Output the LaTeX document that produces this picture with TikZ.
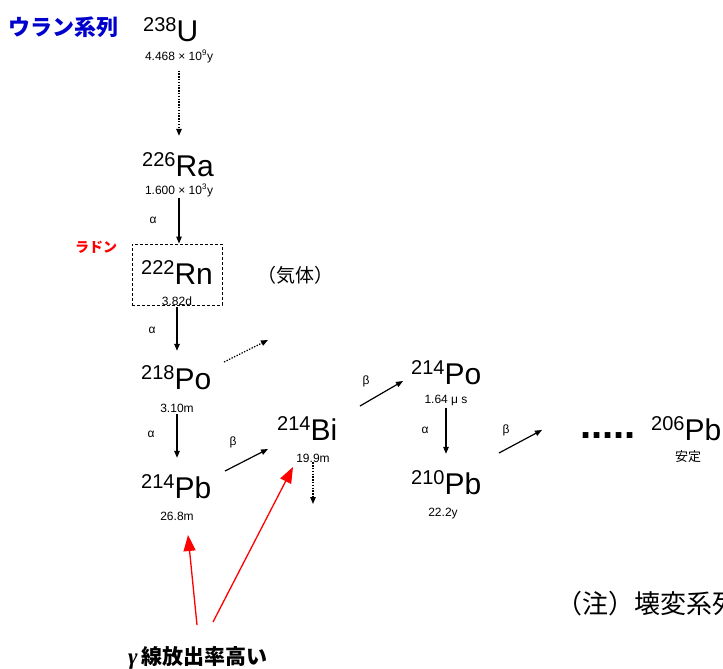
\documentclass[tikz,border=0pt]{standalone}
\usepackage{fontspec}
\setmainfont{Liberation Sans}
\newfontfamily\cjk{Noto Sans CJK JP}
\newfontfamily\serifg{Liberation Serif}
\usetikzlibrary{arrows.meta}
\definecolor{titleblue}{RGB}{0,0,204}
\newcommand{\nuc}[2]{{\fontsize{20}{20}\selectfont\raisebox{10pt}{#1}}{\fontsize{30}{30}\selectfont #2}}
\newcommand{\hsz}{\fontsize{12}{12}\selectfont}
\begin{document}
\begin{tikzpicture}[x=1pt,y=-1pt,
  nucl/.style={anchor=base west,inner sep=0pt},
  hl/.style={anchor=base,inner sep=0pt,font=\hsz},
  arr/.style={line width=1.2pt,-{Triangle[length=7pt,width=5.5pt]}},
  dotarr/.style={arr,dash pattern=on 1.4pt off 1.4pt},
  redarr/.style={red,line width=1.3pt,-{Triangle[length=16pt,width=12pt]}},
  lab/.style={inner sep=0pt,font=\hsz}]
\useasboundingbox (0,0) rectangle (723,669);
\clip (0,0) rectangle (723,669);

% titles and notes
\node[anchor=west,inner sep=0pt,font=\cjk\bfseries\fontsize{22}{22}\selectfont,text=titleblue] (title) at (8,27) {ウラン系列};
\node[anchor=west,inner sep=0pt,font=\cjk\bfseries\fontsize{14}{14}\selectfont,text=red] (radon) at (75,247) {ラドン};
\node[anchor=west,inner sep=0pt,font=\cjk\fontsize{19}{19}\selectfont] (gas) at (257,275) {（気体）};
\node[anchor=west,inner sep=0pt,font=\bfseries\fontsize{21}{21}\selectfont] (gamma) at (128,658) {{\serifg\itshape\fontsize{23}{23}\selectfont γ}\,{\cjk 線放出率高い}};
\node[anchor=west,inner sep=0pt,font=\cjk\fontsize{26}{26}\selectfont] (note) at (556,604) {（注）壊変系列};

% nuclides
\node[nucl] (u) at (143,42) {\nuc{238}{U}};
\node[hl] (uhl) at (179,60) {4.468 × 10\textsuperscript{9}y};
\node[nucl] (ra) at (142,176) {\nuc{226}{Ra}};
\node[hl] (rahl) at (179,194) {1.600 × 10\textsuperscript{3}y};
\node[draw,dash pattern=on 3pt off 2pt,line width=0.9pt,minimum width=90pt,minimum height=61pt,inner sep=0pt] (rnbox) at (177,274.5) {};
\node[nucl] (rn) at (141,284) {\nuc{222}{Rn}};
\node[hl] (rnhl) at (177,305) {3.82d};
\node[nucl] (po218) at (141,389) {\nuc{218}{Po}};
\node[hl] (po218hl) at (177,412) {3.10m};
\node[nucl] (pb214) at (141,498) {\nuc{214}{Pb}};
\node[hl] (pb214hl) at (177,520) {26.8m};
\node[nucl] (bi) at (277,440) {\nuc{214}{Bi}};
\node[hl] (bihl) at (313,462) {19.9m};
\node[nucl] (po214) at (411,384) {\nuc{214}{Po}};
\node[hl] (po214hl) at (446,403) {1.64 μ s};
\node[nucl] (pb210) at (411,494) {\nuc{210}{Pb}};
\node[hl] (pb210hl) at (443,516) {22.2y};
\node[anchor=base west,inner sep=0pt,font=\bfseries\fontsize{40}{40}\selectfont] (dots) at (580,438) {.....};
\node[nucl] (pb206) at (651,440) {\nuc{206}{Pb}};
\node[hl,font=\cjk\fontsize{13}{13}\selectfont] (stable) at (688,461) {安定};

% decay labels
\node[lab] (a1) at (153,220) {α};
\node[lab] (a2) at (152,330) {α};
\node[lab] (a3) at (151,434) {α};
\node[lab] (a4) at (425,430) {α};
\node[lab] (b1) at (233,442) {β};
\node[lab] (b2) at (366,381) {β};
\node[lab] (b3) at (506,430) {β};

% free arrow ends
\coordinate (gasS) at (224,362);
\coordinate (gasE) at (268,340);
\coordinate (b1S) at (225,471);
\coordinate (b1E) at (268,449);
\coordinate (b2S) at (360,406);
\coordinate (b2E) at (403,381);
\coordinate (b3S) at (499,453);
\coordinate (b3E) at (542,430);
\coordinate (biE) at (313,504);
\coordinate (r1S) at (197,625);
\coordinate (r1E) at (188,535);
\coordinate (r2S) at (213,622);
\coordinate (r2E) at (293,467);

% decay arrows
\draw[dotarr,shorten <=8pt,shorten >=16pt] (uhl.south) -- (uhl.south |- ra.north);
\draw[arr,shorten <=1pt] (rahl.south) -- (rahl.south |- rnbox.north);
\draw[arr,shorten <=2pt,shorten >=14pt] (rnbox.south) -- (rnbox.south |- po218.north);
\draw[arr,shorten <=2pt,shorten >=16pt] (po218hl.south) -- (po218hl.south |- pb214.north);
\draw[arr,shorten <=2pt,shorten >=16pt] (po214hl.south) -- (po214hl.south |- pb210.north);
\draw[dotarr] (bihl.south) -- (biE);
\draw[dotarr] (gasS) -- (gasE);
\draw[arr] (b1S) -- (b1E);
\draw[arr] (b2S) -- (b2E);
\draw[arr] (b3S) -- (b3E);
\draw[redarr] (r1S) -- (r1E);
\draw[redarr] (r2S) -- (r2E);
\end{tikzpicture}
\end{document}
